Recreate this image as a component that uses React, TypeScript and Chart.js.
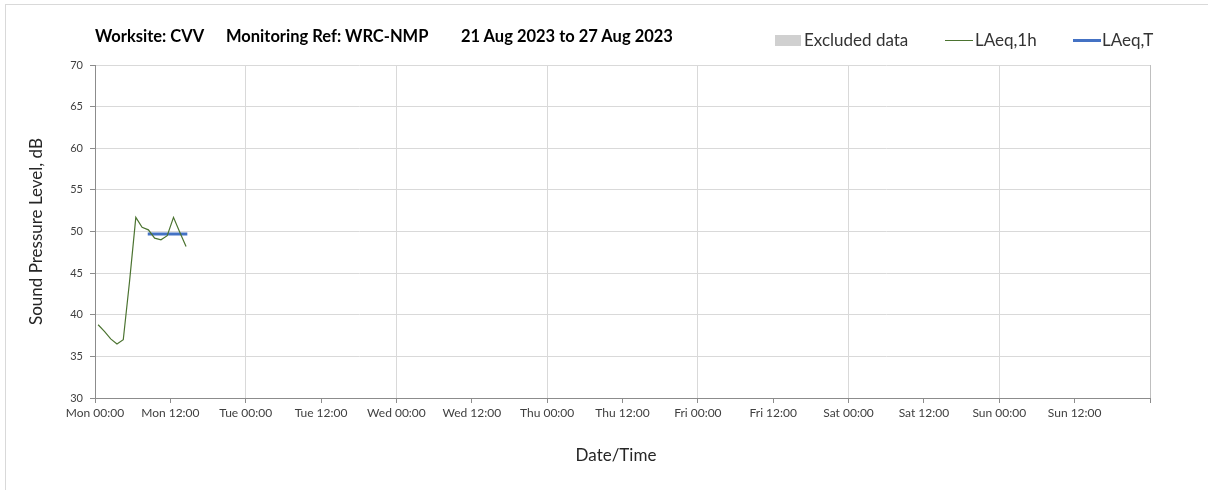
import React, { useEffect, useRef } from "react";
import { Chart, registerables } from "chart.js";

Chart.register(...registerables);

// Hours since Mon 00:00
const hourly = [0.5, 1.5, 2.5, 3.5, 4.5, 5.5, 6.5, 7.5, 8.5, 9.5, 10.5, 11.5, 12.5, 13.5, 14.5];
const laeq1h = [38.8, 38.0, 37.1, 36.5, 37.0, 44.0, 51.7, 50.5, 50.2, 49.2, 49.0, 49.5, 51.7, 49.9, 48.2];
const laeqTHours = [8.4, 14.7];
const laeqTValues = [49.7, 49.7];
const excludedHours: number[] = [];
const tickLabels = [
  "Mon 00:00", "Mon 12:00", "Tue 00:00", "Tue 12:00", "Wed 00:00", "Wed 12:00",
  "Thu 00:00", "Thu 12:00", "Fri 00:00", "Fri 12:00", "Sat 00:00", "Sat 12:00",
  "Sun 00:00", "Sun 12:00",
];

const FONT = "Lato, 'Open Sans', sans-serif";

export default function App() {
  const ref = useRef<HTMLCanvasElement | null>(null);

  useEffect(() => {
    if (!ref.current) return;
    const chart = new Chart(ref.current, {
      type: "line",
      data: {
        datasets: [
          {
            label: "Excluded data",
            data: excludedHours.map((h) => ({ x: h, y: 70 })),
            borderColor: "#d0d0d0",
            backgroundColor: "#d0d0d0",
            pointRadius: 0,
          },
          {
            label: "LAeq,1h",
            data: hourly.map((h, i) => ({ x: h, y: laeq1h[i] })),
            borderColor: "#4b7330",
            borderWidth: 1.2,
            pointRadius: 0,
            tension: 0,
          },
          {
            label: "LAeq,T",
            data: laeqTHours.map((h, i) => ({ x: h, y: laeqTValues[i] })),
            borderColor: "#4472c4",
            borderWidth: 3,
            pointRadius: 0,
          },
        ],
      },
      options: {
        responsive: false,
        animation: false,
        layout: { padding: { top: 65, right: 58, left: 0, bottom: 0 } },
        plugins: {
          legend: { display: false },
          title: { display: false },
          tooltip: { enabled: false },
        },
        scales: {
          x: {
            type: "linear",
            min: 0,
            max: 168,
            afterFit: (scale: any) => {
              scale.height = 92;
            },
            ticks: {
              stepSize: 12,
              autoSkip: false,
              maxRotation: 0,
              padding: 3,
              color: "#404040",
              font: { family: FONT, size: 12 },
              callback: (v: any) => {
                const idx = Math.round(Number(v) / 12);
                return tickLabels[idx] ?? "";
              },
            },
            grid: {
              color: (ctx: any) => {
                const v = ctx.tick ? ctx.tick.value : 0;
                if (v === 168) return "#bfbfbf";
                return v % 24 === 0 && v > 0 ? "#d9d9d9" : "rgba(0,0,0,0)";
              },
              tickColor: "#8c8c8c",
              tickLength: 5,
            },
            border: { color: "#8c8c8c", width: 1 },
            title: {
              display: true,
              text: "Date/Time   ",
              color: "#262626",
              font: { family: FONT, size: 17 },
              padding: { top: 0, bottom: 24 },
            },
          },
          y: {
            min: 30,
            max: 70,
            afterFit: (scale: any) => {
              scale.width = 95;
            },
            ticks: {
              stepSize: 5,
              padding: 7,
              color: "#404040",
              font: { family: FONT, size: 11 },
            },
            grid: {
              color: "#d9d9d9",
              tickColor: "#8c8c8c",
              tickLength: 5,
            },
            border: { color: "#8c8c8c", width: 1 },
            title: {
              display: true,
              text: "Sound Pressure Level, dB",
              color: "#262626",
              font: { family: FONT, size: 17 },
              padding: { top: 26, bottom: 0 },
            },
          },
        },
      },
    });
    return () => chart.destroy();
  }, []);

  const titleStyle: React.CSSProperties = {
    position: "absolute",
    top: 26,
    fontFamily: FONT,
    fontWeight: 700,
    fontSize: 16.5,
    color: "#000",
    whiteSpace: "nowrap",
  };
  const legendText: React.CSSProperties = {
    position: "absolute",
    top: 29,
    fontFamily: FONT,
    fontSize: 17,
    color: "#333",
    whiteSpace: "nowrap",
  };

  return (
    <div
      style={{
        position: "fixed",
        left: 0,
        top: 0,
        width: 1208,
        height: 490,
        background: "#fff",
        overflow: "hidden",
      }}
    >
      <div
        style={{
          position: "absolute",
          left: 5,
          top: 4,
          right: 0,
          bottom: 0,
          borderTop: "1px solid #d9d9d9",
          borderLeft: "1px solid #d9d9d9",
        }}
      />
      <canvas
        ref={ref}
        width={1208}
        height={490}
        style={{ position: "absolute", left: 0, top: 0, width: 1208, height: 490 }}
      />
      <span style={{ ...titleStyle, left: 95 }}>Worksite: CVV</span>
      <span style={{ ...titleStyle, left: 226 }}>Monitoring Ref: WRC-NMP</span>
      <span style={{ ...titleStyle, left: 461 }}>21 Aug 2023 to 27 Aug 2023</span>

      <div style={{ position: "absolute", left: 775, top: 35, width: 26, height: 11, background: "#d0d0d0" }} />
      <span style={{ ...legendText, left: 804 }}>Excluded data</span>
      <div style={{ position: "absolute", left: 945, top: 40, width: 28, height: 1.2, background: "#4b7330" }} />
      <span style={{ ...legendText, left: 975 }}>LAeq,1h</span>
      <div style={{ position: "absolute", left: 1073, top: 39, width: 28, height: 3, background: "#4472c4" }} />
      <span style={{ ...legendText, left: 1102 }}>LAeq,T</span>
    </div>
  );
}
